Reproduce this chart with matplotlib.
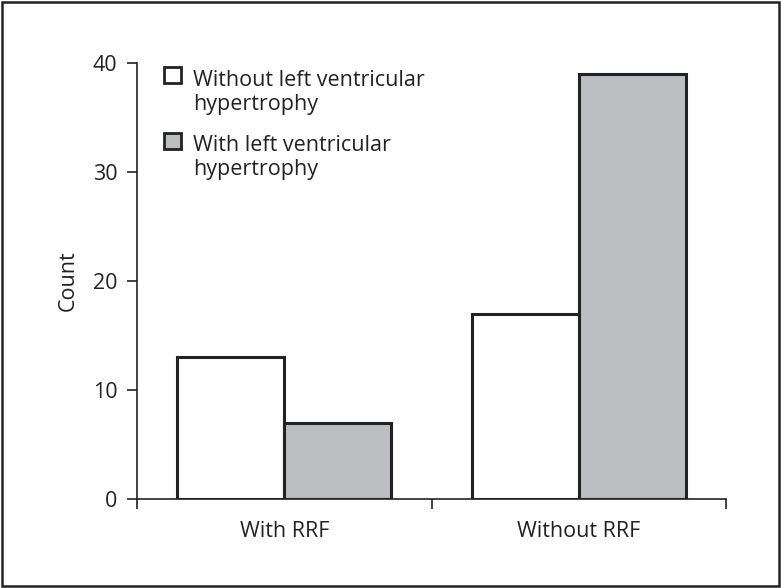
import numpy as np
import matplotlib.pyplot as plt
from matplotlib.patches import Rectangle

# =============================
# Data
# =============================
categories = ['With RRF', 'Without RRF']
series_names = ['Without left ventricular\nhypertrophy',
                'With left ventricular\nhypertrophy']
without_lvh = [13, 17]
with_lvh = [7, 39]
y_ticks = [0, 10, 20, 30, 40]

# =============================
# Style
# =============================
plt.rcParams['font.family'] = ['Open Sans', 'DejaVu Sans']
FS = 15.5
EDGE = '#222222'
GRAY = '#bcbdc0'
BAR_W = 0.364

fig = plt.figure(figsize=(7.81, 5.88), dpi=100)
ax = fig.add_axes([137 / 781, 1 - 499 / 588, 589 / 781, 436 / 588])

x = np.arange(len(categories))
ax.bar(x - BAR_W / 2, without_lvh, BAR_W, color='white', edgecolor=EDGE, linewidth=2.2)
ax.bar(x + BAR_W / 2, with_lvh, BAR_W, color=GRAY, edgecolor=EDGE, linewidth=2.2)

ax.set_xlim(-0.5, len(categories) - 0.5)
ax.set_ylim(0, 40)
ax.set_yticks(y_ticks)
ax.set_xticks(x)
ax.set_xticklabels(categories)
ax.set_xticks(np.arange(len(categories) + 1) - 0.5, minor=True)
ax.tick_params(axis='x', which='major', length=0, pad=16, labelsize=FS, colors='#222222')
ax.tick_params(axis='x', which='minor', length=7.2, width=1.2, direction='out', color='#222222')
ax.tick_params(axis='y', length=7.2, width=1.2, direction='out', pad=7, labelsize=FS, colors='#222222')
ax.set_ylabel('Count', fontsize=FS, labelpad=10, color='#222222')

for side in ['top', 'right']:
    ax.spines[side].set_visible(False)
for side in ['left', 'bottom']:
    ax.spines[side].set_linewidth(1.2)
    ax.spines[side].set_color('#222222')

# legend drawn by hand so the square sits on the first text line
leg_colors = ['white', GRAY]
leg_box_y = [0.954, 0.803]
leg_text_y = [0.892, 0.743]
for name, c, by, ty in zip(series_names, leg_colors, leg_box_y, leg_text_y):
    ax.add_patch(Rectangle((0.046, by), 0.029, 0.036, transform=ax.transAxes,
                           facecolor=c, edgecolor=EDGE, linewidth=2.0, clip_on=False))
    ax.text(0.095, ty, name, transform=ax.transAxes, fontsize=FS,
            va='baseline', ha='left', linespacing=1.2, color='#222222')

# frame around the whole figure
fig.add_artist(Rectangle((0.002, 0.003), 0.996, 0.994, transform=fig.transFigure,
                         fill=False, edgecolor='#222222', linewidth=1.8))

fig.savefig('out.png', dpi=100)
